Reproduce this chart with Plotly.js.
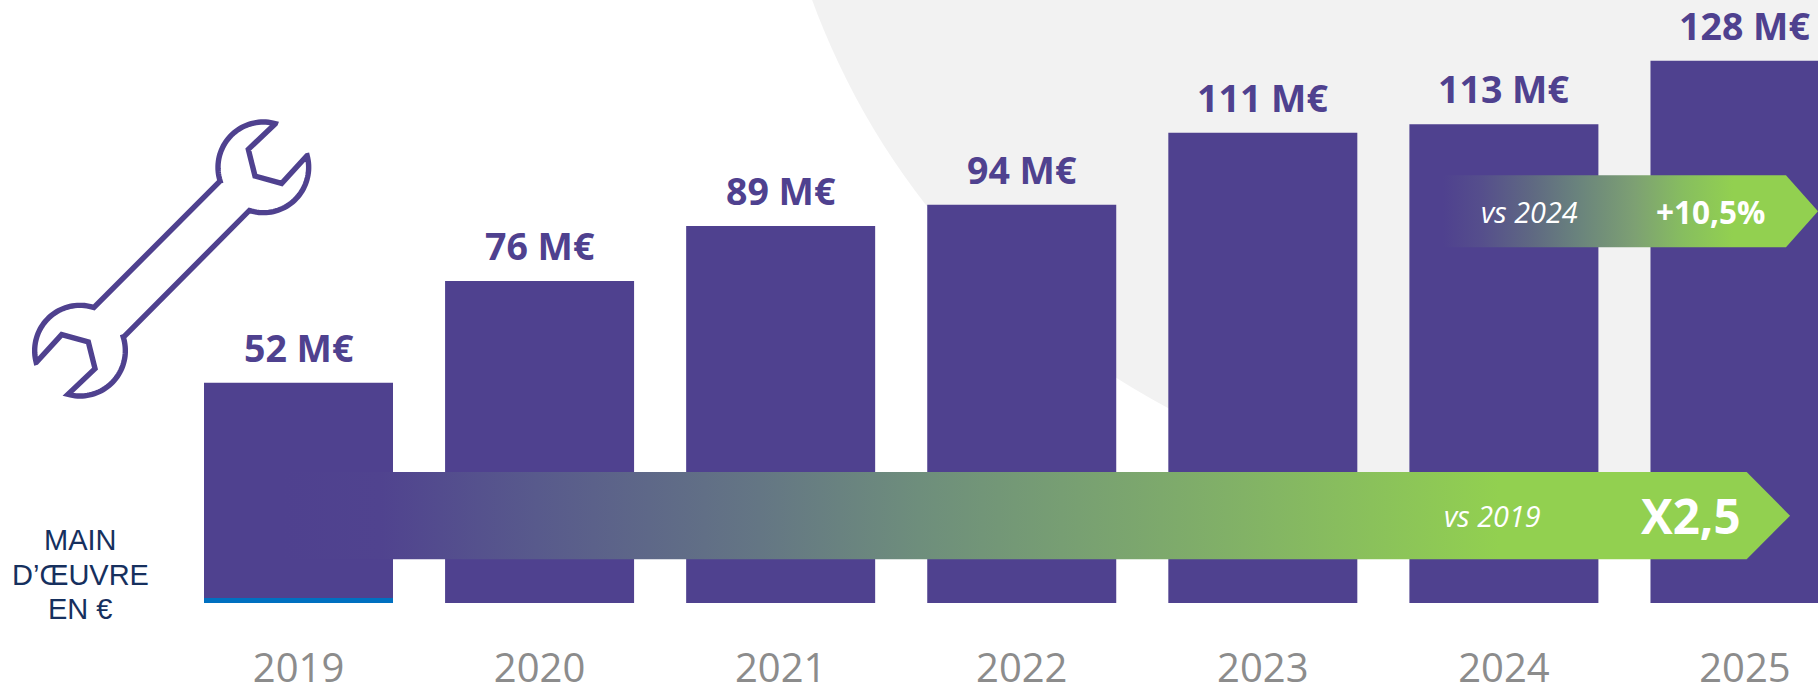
<!DOCTYPE html>
<html><head><meta charset="utf-8">
<script src="https://cdn.plot.ly/plotly-3.0.1.min.js"></script>
<style>html,body{margin:0;padding:0;background:#fff;overflow:hidden}#c{width:1818px;height:685px}</style>
</head><body><div id="c"></div>
<script>
// ---- data ----
const years = ['2019','2020','2021','2022','2023','2024','2025'];
const amounts = [52,76,89,94,111,113,128];
const unit = ' M€';
const stripValues = [1.2,0,0,0,0,0,0];
const rowLabelLines = ['MAIN','D’ŒUVRE','EN €'];
const longArrow = {from:-0.064, body:6.007, tip:6.187, low:10.3, high:30.9, gradEnd:4.98, note:'vs 2019', value:'X2,5',
  ramp:[[0,'#4F418F'],[0.08,'#50438F'],[0.209,'#585A8C'],[0.392,'#647684'],[0.523,'#6E8E7C'],[0.654,'#78A072'],[0.79,'#82B266'],[1,'#92D050']]};
const shortArrow = {from:4.747, body:6.17, tip:6.303, low:84, high:101, gradEnd:5.95, note:'vs 2024', value:'+10,5%',
  ramp:[[0,'#4F418F'],[0.13,'#554E8C'],[0.31,'#5F6982'],[0.46,'#69827D'],[0.66,'#7DA073'],[0.83,'#87BE5F'],[1,'#92D050']]};

// ---- style ----
const PURPLE='#4F418F', BLUE='#0070C0', FONT='"Open Sans", sans-serif';
const W=1818,H=685,BASE=603;
const xIdx=[0,1,2,3,4,5,6];
const px=x=>x/W, py=y=>(BASE-y)/BASE;

function arrowTrace(a){
  const mid=(a.low+a.high)/2;
  return {type:'scatter',mode:'lines',hoverinfo:'skip',showlegend:false,
    x:[a.from,a.body,a.tip,a.body,a.from,a.from],
    y:[a.low,a.low,mid,a.high,a.high,a.low],
    fill:'toself',line:{width:0,color:'rgba(0,0,0,0)'},
    fillgradient:{type:'horizontal',start:a.from,stop:a.gradEnd,colorscale:a.ramp}};
}

function arc(cx,cy,r,a0,a1){const o=[];const n=40;for(let i=0;i<=n;i++){const t=(a0+(a1-a0)*i/n)*Math.PI/180;o.push([cx+r*Math.cos(t),cy+r*Math.sin(t)]);}return o;}
function deg(cx,cy,p){let d=Math.atan2(p[1]-cy,p[0]-cx)*180/Math.PI;return d;}
function wrenchPath(){
  const c1=[790,262],c2=[240,812],r=136;
  const Z=[];
  Z.push([826,131],[745,208],[765,288],[845,310],[921,227]);
  Z.push(...arc(c1[0],c1[1],r,deg(c1[0],c1[1],[921,227]),deg(c1[0],c1[1],[748,392])));
  Z.push([372,770]);
  Z.push(...arc(c2[0],c2[1],r,deg(c2[0],c2[1],[372,770]),deg(c2[0],c2[1],[204,943])));
  Z.push([285,866],[265,786],[185,764],[109,847]);
  Z.push(...arc(c2[0],c2[1],r,deg(c2[0],c2[1],[109,847]),deg(c2[0],c2[1],[282,682])+360));
  Z.push([660,303]);
  Z.push(...arc(c1[0],c1[1],r,deg(c1[0],c1[1],[660,303]),deg(c1[0],c1[1],[826,131])+360));
  return Z.map((p,i)=>(i?'L':'M')+px(p[0]/3).toFixed(5)+','+py(80+p[1]/3).toFixed(5)).join(' ')+' Z';
}

const traces=[
  {type:'bar',x:xIdx,y:amounts,width:0.784,marker:{color:PURPLE,line:{width:0}},hoverinfo:'skip',showlegend:false},
  {type:'bar',x:xIdx,y:stripValues,width:0.784,marker:{color:BLUE,line:{width:0}},hoverinfo:'skip',showlegend:false},
  arrowTrace(longArrow),arrowTrace(shortArrow)
];

const ann=[];
amounts.forEach((v,i)=>ann.push({x:i,y:v,xref:'x',yref:'y',text:v+unit,showarrow:false,xanchor:'center',yanchor:'bottom',yshift:8,
  font:{family:FONT,size:37.5,color:PURPLE,weight:700}}));
function note(a,nx,vx,size){
  const mid=(a.low+a.high)/2;
  ann.push({x:nx,y:mid,xref:'x',yref:'y',text:'<i>'+a.note+'</i>',showarrow:false,xanchor:'center',yanchor:'middle',font:{family:FONT,size:28.8,color:'#fff'}});
  ann.push({x:vx,y:mid,xref:'x',yref:'y',text:'<b>'+a.value+'</b>',showarrow:false,xanchor:'center',yanchor:'middle',font:{family:FONT,size:size,color:'#fff'}});
}
note(longArrow,(1492-298.5)/241.08,(1691-298.5)/241.08,47.5);
note(shortArrow,(1529-298.5)/241.08,(1710-298.5)/241.08,31.5);
const rowY=[540,574.5,609];
rowLabelLines.forEach((t,i)=>ann.push({x:px(80),y:py(rowY[i]),xref:'paper',yref:'paper',text:t,showarrow:false,xanchor:'center',yanchor:'middle',
  font:{family:'"Liberation Sans", sans-serif',size:29,color:'#16305E'}}));

const layout={
  width:W,height:H,margin:{l:0,r:0,t:0,b:H-BASE,pad:0},
  paper_bgcolor:'#fff',plot_bgcolor:'rgba(0,0,0,0)',barmode:'overlay',showlegend:false,
  font:{family:FONT},
  xaxis:{type:'linear',range:[-298.5/241.08,(W-298.5)/241.08],tickmode:'array',tickvals:xIdx,ticktext:years,
    showgrid:false,zeroline:false,showline:false,ticks:'',ticklabelstandoff:38,
    tickfont:{family:FONT,size:40,color:'#8C8C8C'}},
  yaxis:{range:[0,BASE/4.236],showgrid:false,zeroline:false,showline:false,showticklabels:false,ticks:''},
  shapes:[
    {type:'circle',xref:'paper',yref:'paper',layer:'below',x0:px(1522-756),x1:px(1522+756),y0:py(-260+756),y1:py(-260-756),fillcolor:'#F2F2F2',line:{width:0}},
    {type:'path',xref:'paper',yref:'paper',layer:'above',path:wrenchPath(),fillcolor:'rgba(0,0,0,0)',line:{color:PURPLE,width:5.4}}
  ],
  annotations:ann
};
Plotly.newPlot('c',traces,layout,{displayModeBar:false,staticPlot:true});
</script></body></html>
